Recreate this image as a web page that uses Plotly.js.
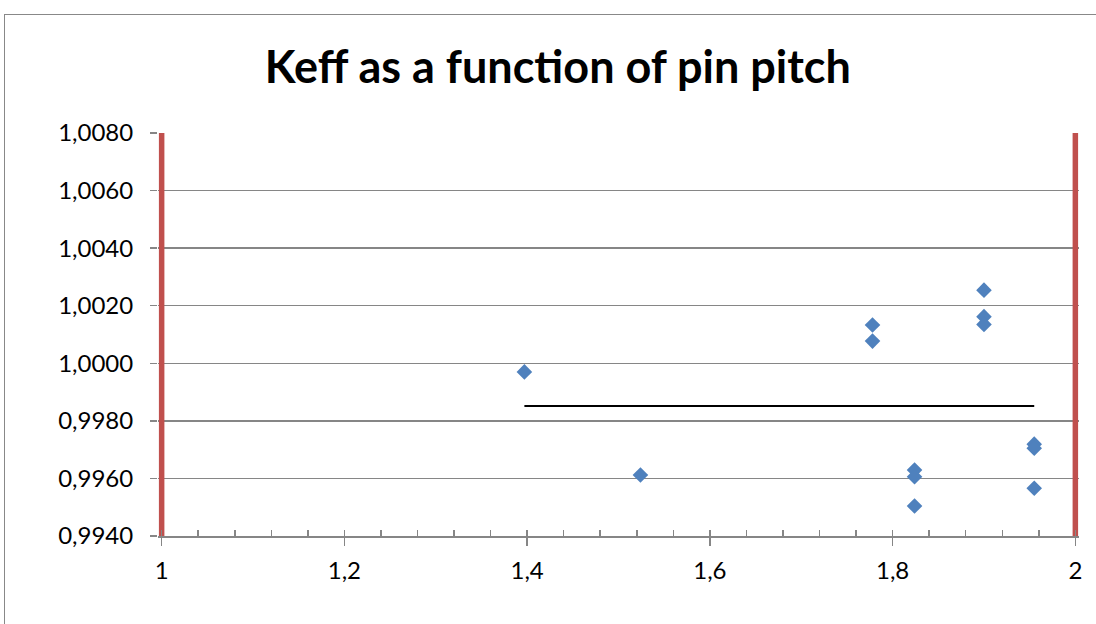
<!DOCTYPE html>
<html>
<head>
<meta charset="utf-8">
<script src="https://cdn.plot.ly/plotly-3.0.1.min.js"></script>
<style>
  html, body { margin: 0; padding: 0; background: #ffffff; }
  #frame { position: absolute; left: 4px; top: 14px; width: 1100px; height: 620px; border: 1px solid #888888; box-sizing: border-box; }
  #chart { position: absolute; left: 0; top: 0; width: 1096px; height: 624px; }
</style>
</head>
<body>
<div id="frame"></div>
<div id="chart"></div>
<script>
// Pin pitch (x) and Keff (y) for the data points
const pitch = [1.397, 1.524, 1.778, 1.778, 1.900, 1.900, 1.900, 1.824, 1.824, 1.824, 1.955, 1.955, 1.955];
const keff  = [0.99970, 0.99612, 1.00133, 1.00077, 1.00254, 1.00162, 1.00135, 0.99629, 0.99606, 0.99504, 0.99719, 0.99705, 0.99566];

// Mean line
const meanX = [1.397, 1.955];
const meanY = [0.99852, 0.99852];

// Red vertical boundary lines
const leftBoundX = [1, 1];
const rightBoundX = [2, 2];
const boundY = [0.9940, 1.0080];

// Axis ticks
const yTicks = [0.9940, 0.9960, 0.9980, 1.0000, 1.0020, 1.0040, 1.0060, 1.0080];
const xTicks = [1, 1.2, 1.4, 1.6, 1.8, 2];

const red = '#C0504D';
const traces = [
  { x: leftBoundX, y: boundY, mode: 'lines', line: { color: red, width: 5.5 }, hoverinfo: 'skip' },
  { x: rightBoundX, y: boundY, mode: 'lines', line: { color: red, width: 5.5 }, hoverinfo: 'skip' },
  { x: meanX, y: meanY, mode: 'lines', line: { color: '#000000', width: 2 } },
  { x: pitch, y: keff, mode: 'markers', marker: { symbol: 'diamond', size: 12, color: '#4F81BD' }, cliponaxis: false }
];

// small padding so the thick boundary lines at x=1 and x=2 are not clipped
const pad = 0.004;
const plotW = 913;
const layout = {
  width: 1096, height: 624,
  paper_bgcolor: 'rgba(0,0,0,0)',
  plot_bgcolor: 'rgba(0,0,0,0)',
  showlegend: false,
  separators: ', ',
  margin: { l: 162 - pad * plotW, r: 21 - pad * plotW, t: 133, b: 88 },
  font: { family: 'Lato, "Open Sans", sans-serif', color: '#000000', size: 24 },
  title: {
    text: '<b>Keff as a function of pin pitch</b>',
    font: { family: 'Lato, "Open Sans", sans-serif', size: 45, color: '#000000' },
    x: 0.509, xanchor: 'center', y: 0.893, yanchor: 'middle'
  },
  xaxis: {
    range: [1 - pad, 2 + pad],
    tickvals: xTicks,
    showgrid: false,
    zeroline: false,
    showline: true, linecolor: '#868686', linewidth: 2,
    ticks: 'outside', ticklen: 8, tickcolor: '#868686', tickwidth: 1.5,
    ticklabelstandoff: 4,
    minor: { dtick: 0.04, tick0: 1, ticks: 'inside', ticklen: 6, tickcolor: '#868686', tickwidth: 1.5, showgrid: false },
    tickfont: { size: 24 }
  },
  yaxis: {
    range: [0.9940, 1.0080],
    tickvals: yTicks,
    tickformat: '.4f',
    showgrid: true, gridcolor: '#868686', gridwidth: 1.5,
    zeroline: false,
    showline: false,
    ticks: 'outside', ticklen: 7, tickcolor: '#868686', tickwidth: 1.5,
    ticklabelstandoff: 12,
    tickfont: { size: 24 }
  }
};

Plotly.newPlot('chart', traces, layout, { staticPlot: true, displayModeBar: false });
</script>
</body>
</html>
